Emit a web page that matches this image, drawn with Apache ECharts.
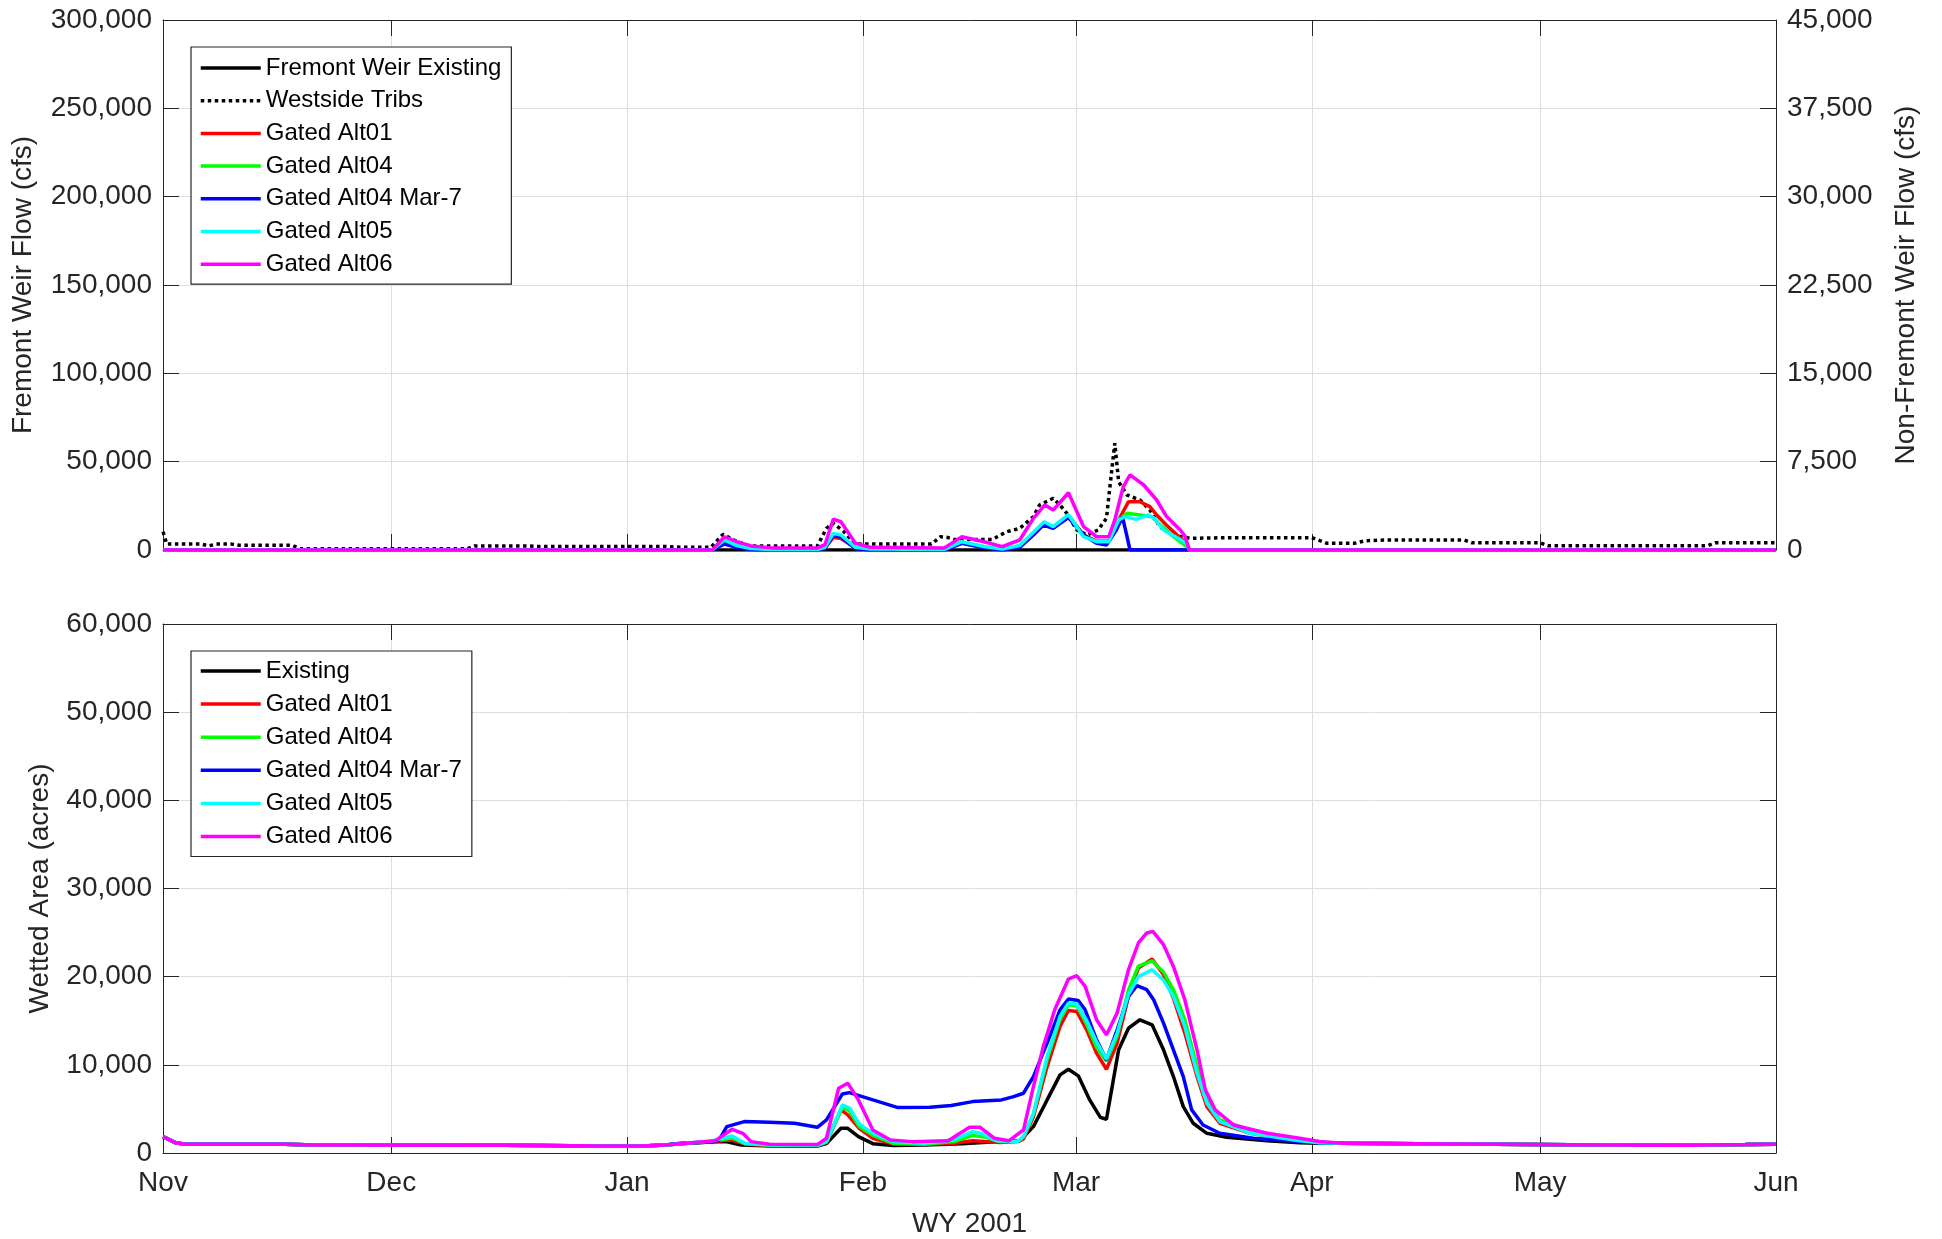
<!DOCTYPE html>
<html><head><meta charset="utf-8">
<script src="https://cdn.jsdelivr.net/npm/echarts@6/dist/echarts.min.js"></script>
<style>html,body{margin:0;padding:0;background:#fff}#c{width:1942px;height:1239px}</style>
</head><body><div id="c"></div>
<script>
// ---- axis ticks ----
const monthDays = [0, 30, 61, 92, 120, 151, 181, 212];   // days since Nov 1, 2000
const monthLabels = ['Nov', 'Dec', 'Jan', 'Feb', 'Mar', 'Apr', 'May', 'Jun'];
const xTitle = 'WY 2001';

// ---- top panel: flows, [day, cfs] ----
const topExisting = [[0, 0], [212, 0]];
const topWestsideTribs = [[0,1550],[0.5,500],[5,500],[6,350],[7,500],[9,500],[10,400],[17,400],[18,100],[40,100],[41,350],[48,350],[49,300],[66,300],[68,230],[72,230],[73.6,1330],[75,850],[77,340],[86,340],[87.2,1840],[88.1,2270],[89.5,1550],[91,500],[101,510],[102.2,1130],[103,1080],[104,900],[109,900],[110.9,1550],[112.6,1840],[114.4,2830],[115.2,3820],[117,4390],[117.9,3820],[118.8,3110],[120.1,1700],[121.5,1270],[122.9,1700],[124,2690],[124.7,6790],[125.1,9060],[125.6,5800],[126.7,4670],[128.4,4245],[129.7,3400],[131,1980],[132.8,1270],[135,990],[140,1050],[151,1050],[153,570],[156.6,570],[158,790],[161,850],[171,850],[172,620],[181,620],[182,365],[203,365],[204,620],[212,620]];
const topAlt01 = [[0,0],[72.2,0],[73.8,4700],[75.4,2000],[77.3,500],[80,200],[86,200],[87,1200],[88.1,7170],[89.1,6500],[91,1200],[93,400],[102.7,200],[105,4000],[107.9,1500],[110.3,300],[112.6,2000],[114.4,9000],[115.8,15000],[117,12800],[119,19500],[121,8500],[122.7,5000],[124.3,5000],[125.6,17000],[126.9,27340],[128.4,27340],[129.7,24530],[130.6,19810],[131.9,14000],[133.4,8000],[134.5,4000],[134.9,0],[212,0]];
const topAlt04 = [[0,0],[72.2,0],[73.8,5200],[75.4,2300],[77.3,700],[80,250],[86,250],[87,1400],[88.1,8800],[89.1,8000],[91,1400],[93,450],[102.7,250],[105,4400],[107.9,1800],[110.3,400],[112.6,2300],[114.4,9600],[115.8,15700],[117,13000],[119,19700],[121,7800],[122.7,4800],[124.3,4800],[125.6,16980],[126.7,20770],[128.4,19810],[130,18870],[131,14500],[132.8,7550],[134.5,2000],[134.9,0],[212,0]];
const topAlt04Mar7 = [[0,0],[72.2,0],[73.8,3400],[75.4,1500],[77.3,300],[80,0],[86,0],[87,1000],[88.1,8300],[89.1,7400],[91,800],[93,0],[102.7,0],[105,3800],[107.9,1200],[110.3,0],[112.6,1500],[114.4,8500],[115.7,14150],[117,12270],[119,18300],[121,8490],[122.7,3790],[124,2830],[125.3,11320],[126.1,18870],[126.6,9600],[127.1,0],[212,0]];
const topAlt05 = [[0,0],[72.2,0],[73.8,5660],[75.4,2500],[77.3,800],[80,300],[86,300],[87,1500],[88.1,9430],[89.1,8500],[91,1500],[93,500],[102.7,300],[105,4700],[107.9,2000],[110.3,500],[112.6,2500],[114.4,10000],[115.8,16020],[117,13200],[119,20000],[121,7530],[122.7,4700],[124.3,4700],[125.6,16980],[126.4,18870],[127.9,17360],[129.5,19810],[130.3,17930],[131.5,11320],[133.4,6600],[134.5,3790],[134.9,0],[212,0]];
const topAlt06 = [[0,0],[72.2,0],[73.8,7500],[75.4,4700],[77.3,2300],[80,1200],[86,1200],[87,3000],[88.1,17500],[89.1,16000],[91,3800],[93,1500],[102.7,1200],[105,7500],[107.9,4700],[110.3,1900],[112.6,5660],[114.4,17900],[115.9,25500],[117,22600],[119,32400],[121,13200],[122.7,7500],[124.3,7500],[125.1,17000],[126.2,35800],[127.1,42500],[128.9,36800],[130.6,28300],[131.9,18900],[133.7,11300],[134.3,8000],[134.9,0],[212,0]];

// ---- bottom panel: wetted area, [day, acres] ----
const areaBaseEarly = [[0,1850],[1.6,1170],[3,1000],[16,990],[20,900],[45,870],[58,780],[63,780],[66,900]];
const areaBaseLate = [[155,1100],[165,1050],[175,1000],[190,900],[200,880],[208,950],[212,1000]];
const areaExisting = [[68,1050],[72,1250],[74,1300],[76,900],[80,800],[86,800],[87.2,1060],[89.1,2800],[90,2800],[91.4,1850],[93.3,1060],[96,850],[100,900],[105,1060],[110,1300],[112.6,1400],[114.4,2990],[116.2,6020],[117.9,8860],[119,9500],[120.3,8750],[121.8,6020],[123.2,4050],[124,3830],[125.6,11700],[126.9,14160],[128.4,15110],[130,14540],[131.5,11700],[132.8,8670],[134.1,5260],[135.4,3370],[137.2,2235],[139.8,1780],[145.1,1400],[149.4,1170],[152,1100]];
const areaAlt01 = [[68,1050],[72,1300],[74.8,1477],[76.5,1000],[80,850],[86,850],[87.2,1200],[89.1,4885],[90,4320],[91.5,2800],[93.3,1670],[96,1000],[100,950],[104,1100],[106.4,1400],[108,1300],[110,1200],[112.3,1300],[113.1,1590],[114.4,4120],[116.2,9800],[117.9,14350],[119,16170],[120.1,16060],[121.4,13970],[122.7,11320],[124,9500],[125.4,12460],[126.9,17760],[128.2,20980],[130,22000],[131.5,20220],[132.8,17570],[134.3,13600],[135.9,8670],[137.2,5260],[138.9,3370],[142.9,2235],[149.4,1400],[152,1200]];
const areaAlt04 = [[68,1050],[72,1300],[74.8,1700],[76.5,1050],[80,880],[86,880],[87.2,1250],[89.3,5200],[90.2,4800],[91.5,3000],[93.3,2000],[96,1100],[100,1000],[104,1300],[106.4,2000],[108,1800],[110,1300],[112.3,1300],[113.1,1800],[114.4,4400],[116.2,10600],[117.9,15200],[119,16800],[120.1,16700],[121.4,14600],[122.7,12000],[124,10400],[125.4,13300],[126.9,18500],[128.2,21200],[130,21800],[131.5,20500],[132.8,18520],[134.3,15110],[135.9,9800],[137.2,6020],[138.9,3750],[142.9,2600],[149.4,1500],[152,1200]];
const areaAlt04Mar7 = [[68,1100],[72,1250],[73.1,1477],[74.1,2990],[76.4,3560],[79.7,3480],[83,3370],[86,2915],[87.2,3750],[89.3,6700],[90.2,6850],[93.3,6020],[96.6,5150],[100.8,5190],[103.6,5380],[106.4,5830],[110.2,6020],[111.8,6400],[113.1,6780],[114.4,8670],[116.2,12460],[117.9,16245],[119,17460],[120.3,17300],[121.2,16245],[122.7,12840],[124,10565],[125.4,13970],[126.9,17760],[128,18970],[129.3,18520],[130.2,17380],[131.5,14730],[132.8,11700],[134.1,8670],[135.2,4885],[136.7,3180],[138.9,2235],[143.3,1670],[149.4,1300],[152,1150]];
const areaAlt05 = [[68,1050],[72,1350],[74.8,1930],[76.5,1100],[80,900],[86,900],[87.2,1300],[89.3,5450],[90.3,5070],[91.5,3300],[93.3,2230],[96,1290],[100,1100],[104,1500],[106.4,2420],[107.5,2230],[109.5,1400],[112.3,1300],[113.1,1900],[114.4,4500],[116.2,10940],[117.9,15490],[119,17000],[120.1,16900],[121.4,15000],[122.7,12600],[124,10640],[125.4,13600],[126.9,18000],[128.2,20000],[130,20790],[131.5,19600],[132.8,17760],[134.3,14350],[135.9,9040],[137.2,5640],[138.9,3560],[142.9,2235],[149.4,1400],[152,1150]];
const areaAlt06 = [[68,1050],[72.6,1400],[74.8,2690],[76.2,2235],[77.3,1290],[79.7,985],[86,950],[87.2,1670],[88.8,7350],[90,7920],[91.4,6020],[93.3,2610],[95.6,1477],[98.4,1290],[103.2,1400],[106,2915],[107.4,2915],[109.3,1670],[111.2,1400],[113.1,2613],[114.4,7530],[115.7,12080],[117.2,16245],[119,19730],[120.1,20107],[121.2,18900],[122.7,15110],[124,13400],[125.4,15870],[126.9,20790],[128.2,23820],[129.3,24960],[130.1,25140],[131.5,23630],[132.8,21160],[134.3,17380],[135.9,11700],[137,7157],[138.3,4885],[140.7,3180],[145.1,2235],[149.4,1666],[152,1300]];

// ---- styling ----
const FONT = '"Liberation Sans", Arial, Helvetica, sans-serif';
const AX = '#262626';
const GRIDC = '#dedede';
const fmt = v => Math.round(v).toLocaleString('en-US');
const monthFmt = v => { const i = monthDays.indexOf(Math.round(v)); return i >= 0 ? monthLabels[i] : ''; };

const area = ev => areaBaseEarly.concat(ev, areaBaseLate);

function ln(name, data, color, xi, yi, type) {
  return {
    type: 'line', name, data, xAxisIndex: xi, yAxisIndex: yi,
    symbol: 'none', showSymbol: false, smooth: false, clip: true, animation: false,
    lineStyle: { color, width: 3.5, type: type || 'solid', cap: 'butt' },
    itemStyle: { color }, emphasis: { disabled: true }
  };
}

function xAx(grid, pos, labels, name) {
  return {
    type: 'value', gridIndex: grid, position: pos, min: 0, max: 212,
    axisLine: { show: true, onZero: false, lineStyle: { color: AX, width: 1 } },
    axisTick: { show: true, inside: true, length: 16, customValues: monthDays, lineStyle: { color: AX, width: 1 } },
    axisLabel: { show: labels, customValues: monthDays, formatter: monthFmt, margin: 16,
      color: AX, fontSize: 28, fontFamily: FONT },
    splitLine: { show: pos === 'bottom', lineStyle: { color: GRIDC, width: 1 } },
    name: name || '', nameLocation: 'middle', nameGap: 57,
    nameTextStyle: { color: AX, fontSize: 28, fontFamily: FONT }
  };
}
function yAx(grid, pos, max, interval, labels, name, gap, split) {
  return {
    type: 'value', gridIndex: grid, position: pos, min: 0, max, interval,
    axisLine: { show: true, onZero: false, lineStyle: { color: AX, width: 1 } },
    axisTick: { show: true, inside: true, length: 16, lineStyle: { color: AX, width: 1 } },
    axisLabel: { show: labels, formatter: fmt, margin: 11, color: AX, fontSize: 28, fontFamily: FONT },
    splitLine: { show: split, lineStyle: { color: GRIDC, width: 1 } },
    name: name || '', nameLocation: 'middle', nameGap: gap || 0, nameRotate: 90,
    nameTextStyle: { color: AX, fontSize: 28, fontFamily: FONT }
  };
}

function legend(names, top, gap, padTop) {
  return {
    data: names, orient: 'vertical', left: 191, top: top,
    itemWidth: 60, itemHeight: 24, itemGap: gap,
    padding: [padTop, 10, 8, 8],
    backgroundColor: '#ffffff', borderColor: AX, borderWidth: 1.2, borderRadius: 0,
    textStyle: { color: '#000', fontSize: 24, fontFamily: FONT, lineHeight: 24 },
    itemStyle: { opacity: 0, borderWidth: 0 },
    lineStyle: { width: 3.5 }, selectedMode: false, z: 10
  };
}

const option = {
  animation: false,
  backgroundColor: '#ffffff',
  grid: [
    { left: 163, top: 20, width: 1613, height: 530, containLabel: false },
    { left: 163, top: 624, width: 1613, height: 529, containLabel: false }
  ],
  xAxis: [
    xAx(0, 'bottom', false), xAx(0, 'top', false),
    xAx(1, 'bottom', true, xTitle), xAx(1, 'top', false)
  ],
  yAxis: [
    yAx(0, 'left', 300000, 50000, true, 'Fremont Weir Flow (cfs)', 126, true),
    yAx(0, 'right', 45000, 7500, true, 'Non-Fremont Weir Flow (cfs)', 116, false),
    yAx(1, 'left', 60000, 10000, true, 'Wetted Area (acres)', 109, true),
    yAx(1, 'right', 60000, 10000, false, '', 0, false)
  ],
  legend: [
    legend(['Fremont Weir Existing', 'Westside Tribs', 'Gated Alt01', 'Gated Alt04', 'Gated Alt04 Mar-7', 'Gated Alt05', 'Gated Alt06'], 47, 8.7, 9),
    legend(['Existing', 'Gated Alt01', 'Gated Alt04', 'Gated Alt04 Mar-7', 'Gated Alt05', 'Gated Alt06'], 651, 9.1, 8)
  ],
  series: [
    ln('Fremont Weir Existing', topExisting, '#000000', 0, 0),
    ln('Westside Tribs', topWestsideTribs, '#000000', 0, 1, [3.5, 3.5]),
    ln('Gated Alt01', topAlt01, '#ff0000', 0, 0),
    ln('Gated Alt04', topAlt04, '#00ff00', 0, 0),
    ln('Gated Alt04 Mar-7', topAlt04Mar7, '#0000ff', 0, 0),
    ln('Gated Alt05', topAlt05, '#00ffff', 0, 0),
    ln('Gated Alt06', topAlt06, '#ff00ff', 0, 0),
    ln('Existing', area(areaExisting), '#000000', 2, 2),
    ln('Gated Alt01', area(areaAlt01), '#ff0000', 2, 2),
    ln('Gated Alt04', area(areaAlt04), '#00ff00', 2, 2),
    ln('Gated Alt04 Mar-7', area(areaAlt04Mar7), '#0000ff', 2, 2),
    ln('Gated Alt05', area(areaAlt05), '#00ffff', 2, 2),
    ln('Gated Alt06', area(areaAlt06), '#ff00ff', 2, 2)
  ]
};

const chart = echarts.init(document.getElementById('c'), null, { renderer: 'canvas' });
chart.setOption(option);
</script>
</body></html>
